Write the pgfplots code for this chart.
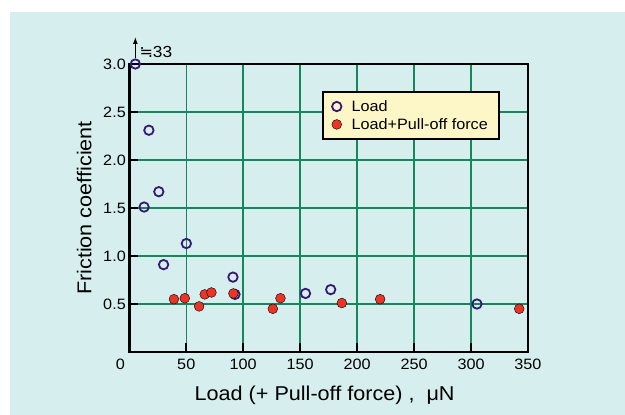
\documentclass[border=0pt]{standalone}
\usepackage{pgfplots}
\pgfplotsset{compat=1.18}
\usetikzlibrary{arrows.meta}
\usepackage{fontspec}
\setmainfont{Liberation Sans}[FakeStretch=1.08]
\newfontfamily\djv{DejaVu Sans}
\definecolor{bgc}{RGB}{214,238,237}
\definecolor{gridg}{RGB}{22,135,92}
\definecolor{purp}{RGB}{55,25,115}
\definecolor{redd}{RGB}{234,52,40}
\definecolor{legy}{RGB}{253,247,200}
\begin{document}
\begin{tikzpicture}
\fill[white] (0pt,0pt) rectangle (625pt,415pt);
\fill[bgc] (10pt,0pt) rectangle (625pt,403pt);
\begin{axis}[
  at={(129.3pt,63pt)}, anchor=south west,
  width=398.7pt, height=288pt, scale only axis,
  xmin=0, xmax=350, ymin=0, ymax=3,
  xtick={0,50,...,350},
  xticklabels={\makebox[0pt][c]{\hspace{-18pt}0},50,100,150,200,250,300,350},
  ytick={0.5,1,...,3},
  yticklabel style={/pgf/number format/fixed, /pgf/number format/fixed zerofill, /pgf/number format/precision=1},
  /pgf/number format/assume math mode=true,
  tick pos=left, tick align=inside,
  major tick length=9pt,
  tick style={black, line width=2pt},
  grid=major,
  major grid style={gridg, line width=1.5pt},
  axis line style={black, line width=2.5pt},
  ticklabel style={font=\fontsize{15}{17}\selectfont},
  xticklabel style={yshift=-3pt},
  xlabel={Load (+ Pull-off force) ,\ \ μN},
  ylabel={Friction coefficient},
  label style={font=\fontsize{20}{22}\selectfont},
  xlabel style={at={(rel axis cs:0.49,0)}, anchor=center, yshift=-43pt},
  ylabel style={at={(rel axis cs:0,0.5)}, anchor=center, yshift=45pt},
  clip=false,
  legend style={at={(rel axis cs:0.483,0.905)}, anchor=north west,
    fill=legy, draw=black, line width=2pt,
    font=\fontsize{15}{17}\selectfont,
    inner xsep=9pt, inner ysep=6pt, row sep=1.5pt, column sep=8pt},
  legend cell align=left,
]
\addplot[only marks, mark=o, mark size=4.7pt, mark options={draw=purp, line width=1.8pt}]
coordinates {
(5.3,3.0) (17.2,2.31) (13.0,1.51) (25.9,1.67) (30.1,0.91) (50.1,1.13)
(91.0,0.78) (92.8,0.60) (154.7,0.61) (176.8,0.65) (305.2,0.50)
};
\addlegendentry{Load}
\addplot[only marks, mark=*, mark size=4.9pt, mark options={fill=redd, draw=none, line width=0.4pt}]
coordinates {
(39.2,0.55) (48.7,0.56) (61.3,0.475) (66.2,0.60) (72.1,0.62) (91.4,0.61)
(126.0,0.45) (132.7,0.56) (186.6,0.51) (220.2,0.55) (342.3,0.45)
};
\addlegendentry{Load+Pull-off force}
\draw[-{Latex[length=7pt,width=5pt]}, line width=1.2pt, black]
  ([yshift=6pt]axis cs:5.3,3) -- ([yshift=27pt]axis cs:5.3,3);
\node[anchor=west, inner sep=0pt, font=\fontsize{16}{18}\selectfont]
  at ([xshift=4pt,yshift=12pt]axis cs:5.3,3) {{\djv ≒}33};
\end{axis}
\end{tikzpicture}
\end{document}
